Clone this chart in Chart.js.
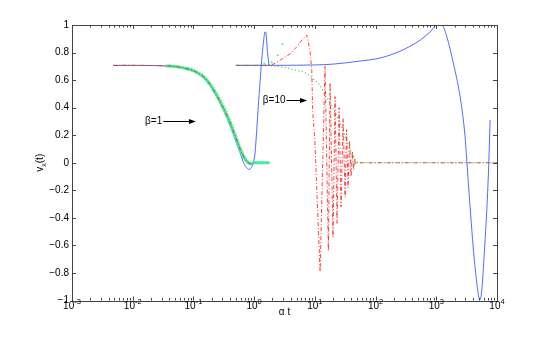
<!DOCTYPE html>
<html>
<head>
<meta charset="utf-8">
<script src="https://cdn.jsdelivr.net/npm/chart.js@4.4.0/dist/chart.umd.min.js"></script>
<style>
  html, body { margin: 0; padding: 0; background: #fff; }
  canvas { display: block; }
</style>
</head>
<body>
<canvas id="chart" width="548" height="339"></canvas>
<script>
// alpha*t (x) and v_x(t) (y)

// beta = 1
const b1CyanT = [0.035, 0.05, 0.07, 0.1, 0.15, 0.2, 0.3, 0.4, 0.5, 0.6, 0.7, 0.8, 0.9, 1.0, 1.2, 1.5, 1.8];
const b1CyanV = [0.703, 0.698, 0.688, 0.668, 0.62, 0.55, 0.41, 0.29, 0.18, 0.09, 0.03, 0.0, -0.008, 0.0, 0.0, 0.0, 0.0];

const b1RedT = [0.0048, 0.01, 0.02, 0.035, 0.05, 0.07, 0.1, 0.15, 0.2, 0.3, 0.4, 0.5, 0.6, 0.7, 0.8, 0.9, 1.0];
const b1RedV = [0.707, 0.707, 0.706, 0.703, 0.698, 0.688, 0.668, 0.62, 0.55, 0.41, 0.29, 0.18, 0.09, 0.03, 0.0, -0.01, 0.0];

const b1GreenT = [0.0048, 0.01, 0.02, 0.035, 0.05, 0.07, 0.1, 0.15, 0.2, 0.3, 0.4, 0.5, 0.6, 0.7, 0.8, 0.9, 1.0];
const b1GreenV = [0.707, 0.707, 0.706, 0.704, 0.70, 0.693, 0.678, 0.635, 0.572, 0.44, 0.32, 0.21, 0.115, 0.048, 0.012, -0.004, 0.0];

const b1BlueT = [0.0048, 0.01, 0.02, 0.035, 0.05, 0.07, 0.1, 0.15, 0.2, 0.3, 0.4, 0.5, 0.6, 0.67, 0.75, 0.82, 0.9, 0.97,
                 1.035, 1.1, 1.17, 1.25, 1.33, 1.42, 1.51, 1.56, 1.66, 1.75];
const b1BlueV = [0.707, 0.707, 0.706, 0.703, 0.697, 0.686, 0.664, 0.615, 0.54, 0.40, 0.27, 0.155, 0.06, 0.0, -0.035, -0.048, -0.035, 0.0,
                 0.07, 0.23, 0.41, 0.58, 0.745, 0.87, 0.95, 0.945, 0.80, 0.71];

// beta = 10
const b10BlueT = [0.5, 1, 2, 5, 10, 20, 55, 118, 253, 541, 790, 1019, 1233, 1490, 1915, 2466, 2980, 3177, 3602, 4355, 5267, 6370, 7220, 7700];
const b10BlueV = [0.707, 0.707, 0.707, 0.708, 0.71, 0.716, 0.738, 0.76, 0.81, 0.89, 0.95, 0.998, 0.998, 0.915, 0.72, 0.48, 0.19, 0.02, -0.32, -0.76, -0.995, -0.56, -0.08, 0.31];

const b10GreenT = [0.5, 1, 2, 3, 5, 6.4, 9, 12.2, 13.7, 19, 27.7, 35, 42.6, 49, 60, 10000];
const b10GreenV = [0.707, 0.707, 0.703, 0.695, 0.67, 0.66, 0.615, 0.56, 0.52, 0.41, 0.26, 0.14, 0.055, 0.005, 0, 0];

const b10RedT = [0.5, 1.0, 1.6, 2.06, 2.68, 3.9, 5.0, 6.1, 7.36, 8.3, 8.9, 9.2, 10.0, 12.2,
                 14.7, 16.7, 17.8, 19.9, 21.5, 23.2, 25.1, 27.0, 29.2, 31.5, 33.3, 35.2, 37.3, 39.5, 41.5, 43.4, 45.1, 46.8, 49.5, 10000];
const b10RedV = [0.707, 0.707, 0.708, 0.715, 0.745, 0.79, 0.84, 0.89, 0.927, 0.82, 0.67, 0.38, 0.16, -0.79,
                 0.70, -0.64, 0.58, -0.54, 0.48, -0.44, 0.40, -0.32, 0.32, -0.25, 0.24, -0.18, 0.16, -0.10, 0.08, -0.05, 0.03, -0.01, 0, 0];

const b10CyanT = [1.46, 1.95, 2.45, 2.92];
const b10CyanV = [0.72, 0.73, 0.78, 0.86];

// axes
const xDecades = [-3, -2, -1, 0, 1, 2, 3, 4];
const yTicks = [-1, -0.8, -0.6, -0.4, -0.2, 0, 0.2, 0.4, 0.6, 0.8, 1];

const pts = (t, v) => t.map((x, i) => ({ x: x, y: v[i] }));

const FONT = '"Liberation Sans", Arial, sans-serif';

const decorations = {
  id: 'decorations',
  afterDatasetsDraw(chart) {
    const { ctx, chartArea: a, scales: { x, y } } = chart;
    ctx.save();

    // box and inward ticks, matlab style
    ctx.strokeStyle = '#444';
    ctx.lineWidth = 1;
    ctx.beginPath();
    for (let d = -3; d < 4; d++) {
      for (let m = 1; m < 10; m++) {
        const px = Math.round(x.getPixelForValue(m * Math.pow(10, d))) + 0.5;
        const len = m === 1 ? 4 : 2.5;
        ctx.moveTo(px, a.bottom); ctx.lineTo(px, a.bottom - len);
        ctx.moveTo(px, a.top); ctx.lineTo(px, a.top + len);
      }
    }
    yTicks.forEach(v => {
      const py = Math.round(y.getPixelForValue(v)) + 0.5;
      ctx.moveTo(a.left, py); ctx.lineTo(a.left + 4, py);
      ctx.moveTo(a.right, py); ctx.lineTo(a.right - 4, py);
    });
    ctx.stroke();
    ctx.strokeRect(Math.round(a.left) + 0.5, Math.round(a.top) + 0.5,
      Math.round(a.right - a.left), Math.round(a.bottom - a.top));

    // x tick labels 10^n
    ctx.fillStyle = '#000';
    ctx.textBaseline = 'alphabetic';
    xDecades.forEach(d => {
      const px = x.getPixelForValue(Math.pow(10, d));
      const exp = String(d);
      ctx.font = '10px ' + FONT;
      const wb = ctx.measureText('10').width;
      ctx.font = '7.5px ' + FONT;
      const we = ctx.measureText(exp).width;
      const x0 = px - (wb + we) / 2;
      ctx.font = '10px ' + FONT;
      ctx.textAlign = 'left';
      ctx.fillText('10', x0, a.bottom + 8);
      ctx.font = '7.5px ' + FONT;
      ctx.fillText(exp, x0 + wb, a.bottom + 3.5);
    });

    // y title v_x(t)
    ctx.save();
    ctx.translate(43, (a.top + a.bottom) / 2);
    ctx.rotate(-Math.PI / 2);
    ctx.font = '10px ' + FONT;
    const wv = ctx.measureText('v').width;
    const wt = ctx.measureText('(t)').width;
    ctx.font = '7px ' + FONT;
    const wx = ctx.measureText('x').width;
    let sx = -(wv + wx + wt) / 2;
    ctx.font = '10px ' + FONT;
    ctx.fillText('v', sx, 0);
    ctx.font = '7px ' + FONT;
    ctx.fillText('x', sx + wv, 2.5);
    ctx.font = '10px ' + FONT;
    ctx.fillText('(t)', sx + wv + wx, 0);
    ctx.restore();

    // beta annotations with arrows
    const notes = [
      { text: '\u03b2=1', t: 0.016, v: 0.30, to: 0.11 },
      { text: '\u03b2=10', t: 1.39, v: 0.455, to: 7.44 }
    ];
    ctx.font = '10px ' + FONT;
    ctx.textBaseline = 'middle';
    ctx.textAlign = 'left';
    notes.forEach(n => {
      const px = x.getPixelForValue(n.t);
      const py = Math.round(y.getPixelForValue(n.v)) + 0.5;
      ctx.fillStyle = '#000';
      ctx.fillText(n.text, px, py);
      const x1 = px + ctx.measureText(n.text).width + 1;
      const x2 = x.getPixelForValue(n.to);
      ctx.strokeStyle = '#000';
      ctx.beginPath();
      ctx.moveTo(x1, py); ctx.lineTo(x2 - 5, py);
      ctx.stroke();
      ctx.beginPath();
      ctx.moveTo(x2, py); ctx.lineTo(x2 - 7, py - 2.5); ctx.lineTo(x2 - 7, py + 2.5);
      ctx.closePath();
      ctx.fill();
    });

    ctx.restore();
  }
};

const red = 'rgba(255, 30, 30, 0.85)';
const green = 'rgba(40, 190, 40, 0.9)';
const blue = 'rgba(40, 70, 255, 0.8)';
const mint = 'rgb(64, 240, 160)';

// first dataset is drawn on top
new Chart(document.getElementById('chart'), {
  type: 'line',
  data: {
    datasets: [
      { data: pts(b10GreenT, b10GreenV), borderColor: green, borderWidth: 1.2, borderDash: [1, 2.5], pointRadius: 0, cubicInterpolationMode: 'monotone' },
      { data: pts(b10RedT, b10RedV), borderColor: red, borderWidth: 1, borderDash: [4, 2, 1, 2], pointRadius: 0, tension: 0 },
      { data: pts(b1RedT, b1RedV), borderColor: red, borderWidth: 1, borderDash: [4, 2, 1, 2], pointRadius: 0, cubicInterpolationMode: 'monotone' },
      { data: pts(b10CyanT, b10CyanV), showLine: false, pointRadius: 1, pointBorderWidth: 0, pointBackgroundColor: mint },
      { data: pts(b1CyanT, b1CyanV), borderColor: mint, borderWidth: 3, pointRadius: 0, cubicInterpolationMode: 'monotone' },
      { data: pts(b1GreenT, b1GreenV), borderColor: green, borderWidth: 1, borderDash: [1, 2], pointRadius: 0, cubicInterpolationMode: 'monotone' },
      { data: pts(b10BlueT, b10BlueV), borderColor: blue, borderWidth: 1, pointRadius: 0, cubicInterpolationMode: 'monotone' },
      { data: pts(b1BlueT, b1BlueV), borderColor: blue, borderWidth: 1, pointRadius: 0, cubicInterpolationMode: 'monotone' }
    ]
  },
  options: {
    responsive: false,
    animation: false,
    events: [],
    layout: { padding: { left: 0, top: 25, right: 51, bottom: 0 } },
    plugins: {
      legend: { display: false },
      tooltip: { enabled: false }
    },
    scales: {
      x: {
        type: 'logarithmic',
        min: 0.001,
        max: 10000,
        grid: { display: false, drawTicks: false },
        border: { display: false },
        ticks: { display: false },
        afterBuildTicks: (scale) => {
          scale.ticks = xDecades.map(d => ({ value: Math.pow(10, d) }));
        },
        afterFit: (scale) => { scale.height = 38.5; },
        title: {
          display: true,
          text: '\u03b1 t',
          color: '#000',
          font: { family: FONT, size: 10 },
          padding: { top: 0, bottom: 21 }
        }
      },
      y: {
        min: -1,
        max: 1,
        grid: { display: false, drawTicks: false },
        border: { display: false },
        afterBuildTicks: (scale) => {
          scale.ticks = yTicks.map(v => ({ value: v }));
        },
        afterFit: (scale) => { scale.width = 72; },
        ticks: {
          color: '#000',
          padding: 3,
          font: { family: FONT, size: 10 },
          callback: (v) => String(Math.round(v * 10) / 10).replace('-', '\u2212')
        }
      }
    }
  },
  plugins: [decorations]
});
</script>
</body>
</html>
